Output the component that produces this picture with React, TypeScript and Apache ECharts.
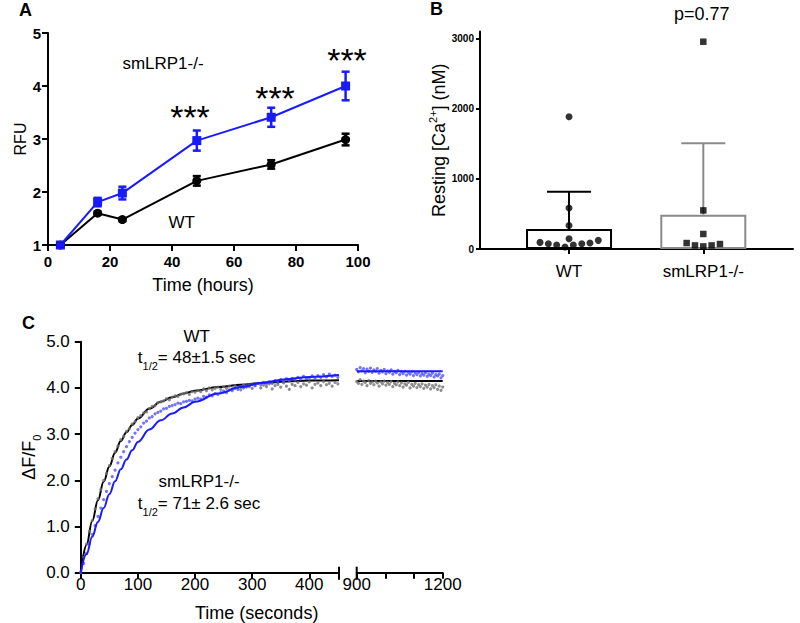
import React, { useEffect, useRef } from "react";
import * as echarts from "echarts";

const FONT = "'Liberation Sans', Arial, Helvetica, sans-serif";
const BLUE = "#1a1aff";

// ---------- Panel A ----------
const aHours = [4, 16, 24, 48, 72, 96];
const aKoMean = [1.0, 1.81, 1.98, 2.97, 3.41, 4.0];
const aKoErr = [0.02, 0.08, 0.12, 0.19, 0.18, 0.27];
const aWtMean = [1.0, 1.6, 1.48, 2.21, 2.52, 2.99];
const aWtErr = [0.02, 0.03, 0.03, 0.09, 0.08, 0.11];

// ---------- Panel B ----------
const bGroups = ["WT", "smLRP1-/-"];
const bMeans = [285, 489];
const bSD = [530, 1016];
// [horizontal jitter from the group centre, value in nM]
const bWtPoints: [number, number][] = [
  [-0.216, 94], [-0.154, 75], [-0.092, 57], [-0.03, 28], [0.032, 57], [0.095, 75],
  [0.156, 85], [0.218, 123], [0, 147], [0, 336], [0, 584], [0, 1885],
];
const bKoPoints: [number, number][] = [
  [-0.124, 85], [-0.062, 51], [0, 37], [0.062, 51], [0.124, 71], [0, 214], [0, 550], [0, 2953],
];

// ---------- Panel C ----------
const cWtFit: [number, number][] = [
  [0, 0], [10, 0.6], [20, 1.12], [30, 1.57], [40, 1.97], [50, 2.3], [60, 2.6], [70, 2.85],
  [80, 3.04], [90, 3.2], [100, 3.34], [120, 3.55], [140, 3.7], [160, 3.8], [180, 3.88],
  [200, 3.94], [240, 4.02], [280, 4.07], [320, 4.11], [360, 4.14], [400, 4.16], [452, 4.17],
];
const cKoFit: [number, number][] = [
  [0, 0], [10, 0.4], [20, 0.78], [30, 1.1], [40, 1.4], [50, 1.7], [60, 1.98], [70, 2.24],
  [80, 2.45], [90, 2.65], [100, 2.83], [120, 3.1], [140, 3.3], [160, 3.45], [180, 3.58],
  [200, 3.7], [240, 3.88], [280, 4.02], [320, 4.12], [360, 4.19], [400, 4.24], [452, 4.28],
];
const cWtFitLate: [number, number][] = [[900, 4.15], [1200, 4.15]];
const cKoFitLate: [number, number][] = [[900, 4.36], [1200, 4.36]];

const cWtData: [number, number][] = [
  [0, 0.02], [5, 0.33], [10, 0.62], [15, 0.9], [20, 1.13], [25, 1.38], [30, 1.6], [35, 1.8],
  [40, 2.0], [45, 2.15], [50, 2.32], [55, 2.47], [60, 2.62], [65, 2.74], [70, 2.88], [75, 2.95],
  [80, 3.06], [85, 3.12], [90, 3.22], [95, 3.27], [100, 3.36], [105, 3.4], [110, 3.46], [115, 3.48],
  [120, 3.56], [125, 3.6], [130, 3.62], [135, 3.68], [140, 3.7], [145, 3.72], [150, 3.77], [155, 3.74],
  [160, 3.8], [165, 3.83], [170, 3.82], [175, 3.86], [180, 3.87], [185, 3.9], [190, 3.86], [195, 3.92],
  [200, 3.91], [205, 3.95], [210, 3.92], [215, 3.98], [220, 3.94], [225, 4.0], [230, 3.96], [235, 3.99],
  [240, 4.02], [245, 3.97], [250, 4.03], [255, 3.99], [260, 4.04], [265, 3.98], [270, 4.05], [275, 4.01],
  [280, 3.96], [285, 4.06], [290, 4.02], [295, 4.07], [300, 3.99], [305, 4.05], [310, 4.1], [315, 4.0],
  [320, 4.06], [325, 4.03], [330, 4.09], [335, 3.98], [340, 4.05], [345, 4.08], [350, 4.02], [355, 4.11],
  [360, 4.04], [365, 3.97], [370, 4.08], [375, 4.05], [380, 4.12], [385, 4.03], [390, 4.09], [395, 4.06],
  [400, 4.13], [405, 4.0], [410, 4.08], [415, 4.11], [420, 4.05], [425, 4.14], [430, 4.07], [435, 4.1],
  [440, 4.04], [445, 4.12], [450, 4.09],
];
const cKoData: [number, number][] = [
  [0, 0.0], [5, 0.2], [10, 0.42], [15, 0.62], [20, 0.83], [25, 1.02], [30, 1.22], [35, 1.4],
  [40, 1.58], [45, 1.76], [50, 1.93], [55, 2.08], [60, 2.22], [65, 2.38], [70, 2.5], [75, 2.62],
  [80, 2.73], [85, 2.84], [90, 2.93], [95, 3.02], [100, 3.1], [105, 3.16], [110, 3.24], [115, 3.28],
  [120, 3.35], [125, 3.38], [130, 3.44], [135, 3.47], [140, 3.5], [145, 3.55], [150, 3.56], [155, 3.6],
  [160, 3.62], [165, 3.64], [170, 3.67], [175, 3.66], [180, 3.7], [185, 3.71], [190, 3.73], [195, 3.72],
  [200, 3.76], [205, 3.78], [210, 3.76], [215, 3.82], [220, 3.8], [225, 3.85], [230, 3.83], [235, 3.88],
  [240, 3.86], [245, 3.9], [250, 3.93], [255, 3.9], [260, 3.96], [265, 3.94], [270, 3.99], [275, 3.97],
  [280, 4.02], [285, 4.0], [290, 4.05], [295, 4.03], [300, 4.08], [305, 4.05], [310, 4.1], [315, 4.07],
  [320, 4.12], [325, 4.09], [330, 4.14], [335, 4.1], [340, 4.16], [345, 4.12], [350, 4.18], [355, 4.14],
  [360, 4.2], [365, 4.16], [370, 4.21], [375, 4.17], [380, 4.23], [385, 4.19], [390, 4.25], [395, 4.2],
  [400, 4.22], [405, 4.26], [410, 4.2], [415, 4.27], [420, 4.23], [425, 4.29], [430, 4.24], [435, 4.3],
  [440, 4.25], [445, 4.28], [450, 4.23],
];
const cWtDataLate: [number, number][] = [
  [900, 4.14], [906, 4.1], [912, 4.18], [918, 4.08], [924, 4.15], [930, 4.12], [936, 4.05], [942, 4.16],
  [948, 4.1], [954, 4.13], [960, 4.07], [966, 4.15], [972, 4.11], [978, 4.04], [984, 4.13], [990, 4.09],
  [996, 4.15], [1002, 4.06], [1008, 4.12], [1014, 4.08], [1020, 4.14], [1026, 4.03], [1032, 4.1], [1038, 4.07],
  [1044, 4.13], [1050, 4.05], [1056, 4.11], [1062, 4.02], [1068, 4.09], [1074, 4.06], [1080, 4.12], [1086, 4.0],
  [1092, 4.08], [1098, 4.04], [1104, 4.1], [1110, 4.01], [1116, 4.07], [1122, 4.03], [1128, 4.09], [1134, 3.99],
  [1140, 4.06], [1146, 4.02], [1152, 4.08], [1158, 3.98], [1164, 4.05], [1170, 4.01], [1176, 4.07], [1182, 3.97],
  [1188, 4.04], [1194, 3.95], [1200, 4.02],
];
const cKoDataLate: [number, number][] = [
  [900, 4.4], [906, 4.35], [912, 4.44], [918, 4.37], [924, 4.42], [930, 4.33], [936, 4.41], [942, 4.36],
  [948, 4.43], [954, 4.34], [960, 4.39], [966, 4.36], [972, 4.42], [978, 4.32], [984, 4.38], [990, 4.35],
  [996, 4.4], [1002, 4.31], [1008, 4.37], [1014, 4.34], [1020, 4.39], [1026, 4.3], [1032, 4.36], [1038, 4.33],
  [1044, 4.38], [1050, 4.29], [1056, 4.35], [1062, 4.31], [1068, 4.36], [1074, 4.28], [1080, 4.34], [1086, 4.3],
  [1092, 4.35], [1098, 4.27], [1104, 4.33], [1110, 4.29], [1116, 4.34], [1122, 4.26], [1128, 4.31], [1134, 4.28],
  [1140, 4.33], [1146, 4.25], [1152, 4.3], [1158, 4.27], [1164, 4.32], [1170, 4.24], [1176, 4.29], [1182, 4.26],
  [1188, 4.3], [1194, 4.22], [1200, 4.27],
];

const axisLine = { show: true, onZero: false, lineStyle: { color: "#000", width: 2 } };
const axisTick = (len: number) => ({ show: true, inside: false, length: len, lineStyle: { color: "#000", width: 2 } });

function errorBars(xi: number, data: number[][], colors: string[], halfCap: number, lw: number, lowerCap: boolean) {
  return {
    type: "custom",
    xAxisIndex: xi,
    yAxisIndex: xi,
    data,
    encode: { x: 0, y: [1, 2] },
    z: 3,
    renderItem: (params: any, api: any) => {
      const x = api.value(0);
      const lo = api.coord([x, api.value(1)]);
      const hi = api.coord([x, api.value(2)]);
      const style = { stroke: colors[params.dataIndex % colors.length], lineWidth: lw };
      const children: any[] = [
        { type: "line", shape: { x1: lo[0], y1: lo[1], x2: hi[0], y2: hi[1] }, style },
        { type: "line", shape: { x1: hi[0] - halfCap, y1: hi[1], x2: hi[0] + halfCap, y2: hi[1] }, style },
      ];
      if (lowerCap) {
        children.push({ type: "line", shape: { x1: lo[0] - halfCap, y1: lo[1], x2: lo[0] + halfCap, y2: lo[1] }, style });
      }
      return { type: "group", children };
    },
  };
}

function txt(x: number, y: number, text: string, size: number, extra: any = {}) {
  return {
    type: "text",
    x,
    y,
    z: 100,
    style: {
      text,
      fontSize: size,
      fontFamily: FONT,
      fontWeight: "normal",
      fill: "#000",
      align: "center",
      verticalAlign: "middle",
      ...extra,
    },
  };
}

function richHalf(x: number, y: number, rest: string) {
  return {
    type: "text",
    x,
    y,
    z: 100,
    style: {
      text: `{n|t}{s|1/2}{n|${rest}}`,
      fontFamily: FONT,
      fill: "#000",
      align: "center",
      verticalAlign: "middle",
      rich: {
        n: { fontSize: 17, lineHeight: 28, fontFamily: FONT, fontWeight: "normal", fill: "#000" },
        s: { fontSize: 11, lineHeight: 12, verticalAlign: "bottom", fontFamily: FONT, fontWeight: "normal", fill: "#000" },
      },
    },
  };
}

const nameStyle = (size: number) => ({ fontSize: size, color: "#000", fontFamily: FONT, fontWeight: "normal" });

export default function App() {
  const ref = useRef<HTMLDivElement>(null);
  useEffect(() => {
    const chart = echarts.init(ref.current!, undefined, { renderer: "svg", width: 800, height: 623 });

    const graphics: any[] = [
      txt(25.5, 10, "A", 18, { fontWeight: "bold" }),
      txt(436.5, 9, "B", 18, { fontWeight: "bold" }),
      txt(28.5, 322.5, "C", 18, { fontWeight: "bold" }),
      txt(163, 63, "smLRP1-/-", 17),
      txt(181.7, 222, "WT", 17),
      txt(190, 117, "***", 34),
      txt(275, 98, "***", 34),
      txt(347, 60, "***", 34),
      txt(701.7, 14, "p=0.77", 18),
      txt(196.7, 336.7, "WT", 17),
      richHalf(196.7, 357.3, "= 48±1.5 sec"),
      txt(199, 481.7, "smLRP1-/-", 17),
      richHalf(199, 503.3, "= 71± 2.6 sec"),
      txt(256.7, 613, "Time (seconds)", 18),
    ];

    const option: any = {
      animation: false,
      backgroundColor: "#fff",
      textStyle: { fontFamily: FONT, color: "#000", fontWeight: "normal" },
      grid: [
        { left: 48, top: 33, width: 310, height: 212 },
        { left: 480, top: 31.4, width: 313, height: 217.6 },
        { left: 80.8, top: 341.8, width: 258.2, height: 230.9 },
        { left: 356.7, top: 341.8, width: 86, height: 230.9 },
      ],
      xAxis: [
        {
          type: "value", gridIndex: 0, min: 0, max: 100, interval: 20,
          axisLine, axisTick: axisTick(6), splitLine: { show: false },
          axisLabel: { fontSize: 15, fontWeight: "bold", color: "#000", margin: 9, fontFamily: FONT },
          name: "Time (hours)", nameLocation: "middle", nameGap: 31,
          nameTextStyle: nameStyle(18),
        },
        {
          type: "value", gridIndex: 1, min: -0.663, max: 1.668,
          axisLine, splitLine: { show: false },
          axisTick: { ...axisTick(5), customValues: [0, 1] },
          axisLabel: {
            customValues: [0, 1], fontSize: 17, color: "#000", margin: 14, fontFamily: FONT, fontWeight: "normal",
            formatter: (v: number) => bGroups[Math.round(v)] ?? "",
          },
        },
        {
          type: "value", gridIndex: 2, min: 0, max: 452, interval: 100,
          axisLine, axisTick: axisTick(6), splitLine: { show: false },
          axisLabel: { fontSize: 17, color: "#000", margin: 3, fontFamily: FONT, fontWeight: "normal", showMaxLabel: false },
        },
        {
          type: "value", gridIndex: 3, min: 900, max: 1200, interval: 100,
          axisLine, axisTick: axisTick(6), splitLine: { show: false },
          axisLabel: {
            fontSize: 17, color: "#000", margin: 3, fontFamily: FONT, fontWeight: "normal",
            formatter: (v: number) => (v === 900 || v === 1200 ? String(v) : ""),
          },
        },
      ],
      yAxis: [
        {
          type: "value", gridIndex: 0, min: 1, max: 5, interval: 1,
          axisLine, axisTick: axisTick(6), splitLine: { show: false },
          axisLabel: { fontSize: 15, fontWeight: "bold", color: "#000", margin: 7, fontFamily: FONT },
          name: "RFU", nameLocation: "middle", nameGap: 18,
          nameTextStyle: nameStyle(16),
        },
        {
          type: "value", gridIndex: 1, min: 0, max: 3100, interval: 1000,
          axisLine, axisTick: axisTick(4), splitLine: { show: false },
          axisLabel: {
            fontSize: 10, fontWeight: "bold", color: "#000", margin: 6, fontFamily: FONT,
            formatter: (v: number) => String(v),
          },
          name: "{n|Resting [Ca}{p|2+}{n|] (nM)}", nameLocation: "middle", nameGap: 29,
          nameTextStyle: {
            ...nameStyle(18),
            rich: {
              n: { fontSize: 18, lineHeight: 22, fontFamily: FONT, fontWeight: "normal", color: "#000" },
              p: { fontSize: 11, lineHeight: 10, verticalAlign: "top", fontFamily: FONT, fontWeight: "normal", color: "#000" },
            },
          },
        },
        {
          type: "value", gridIndex: 2, min: 0, max: 5, interval: 1,
          axisLine, axisTick: axisTick(6), splitLine: { show: false },
          axisLabel: {
            fontSize: 17, color: "#000", margin: 11, fontFamily: FONT, fontWeight: "normal",
            formatter: (v: number) => v.toFixed(1),
          },
          name: "{n|ΔF/F}{s|0}", nameLocation: "middle", nameGap: 38,
          nameTextStyle: {
            ...nameStyle(18),
            rich: {
              n: { fontSize: 18, lineHeight: 26, fontFamily: FONT, fontWeight: "normal", color: "#000" },
              s: { fontSize: 11, lineHeight: 12, verticalAlign: "bottom", fontFamily: FONT, fontWeight: "normal", color: "#000" },
            },
          },
        },
        {
          type: "value", gridIndex: 3, min: 0, max: 5, interval: 1, show: false,
        },
      ],
      series: [
        // Panel A
        {
          type: "line", xAxisIndex: 0, yAxisIndex: 0, z: 2,
          data: aHours.map((h, i) => [h, aWtMean[i]]),
          symbol: "circle", symbolSize: 9,
          itemStyle: { color: "#000" }, lineStyle: { color: "#000", width: 2 },
        },
        {
          type: "line", xAxisIndex: 0, yAxisIndex: 0, z: 2,
          data: aHours.map((h, i) => [h, aKoMean[i]]),
          symbol: "rect", symbolSize: 9,
          itemStyle: { color: BLUE }, lineStyle: { color: BLUE, width: 2 },
        },
        errorBars(0, aHours.map((h, i) => [h, aWtMean[i] - aWtErr[i], aWtMean[i] + aWtErr[i]]), ["#000"], 4, 2.5, true),
        errorBars(0, aHours.map((h, i) => [h, aKoMean[i] - aKoErr[i], aKoMean[i] + aKoErr[i]]), [BLUE], 4, 2.5, true),
        // Panel B
        {
          type: "bar", xAxisIndex: 1, yAxisIndex: 1, barWidth: 86, z: 1,
          data: [
            { value: [0, bMeans[0]], itemStyle: { color: "#fff", borderColor: "#000", borderWidth: 2 } },
            { value: [1, bMeans[1]], itemStyle: { color: "#fff", borderColor: "#8a8a8a", borderWidth: 2 } },
          ],
        },
        errorBars(1, bMeans.map((m, i) => [i, m, m + bSD[i]]), ["#000", "#8a8a8a"], 22, 2, false),
        {
          type: "scatter", xAxisIndex: 1, yAxisIndex: 1, z: 4,
          data: bWtPoints.map(([dx, v]) => [0 + dx, v]), symbol: "circle", symbolSize: 7, itemStyle: { color: "#000" },
        },
        {
          type: "scatter", xAxisIndex: 1, yAxisIndex: 1, z: 4,
          data: bKoPoints.map(([dx, v]) => [1 + dx, v]), symbol: "rect", symbolSize: 6.5, itemStyle: { color: "#000" },
        },
        // Panel C (left)
        {
          type: "line", xAxisIndex: 2, yAxisIndex: 2, z: 2, data: cWtFit, smooth: 0.4, smoothMonotone: "x",
          showSymbol: false, lineStyle: { color: "#000", width: 2 },
        },
        {
          type: "scatter", xAxisIndex: 2, yAxisIndex: 2, z: 3, data: cWtData,
          symbolSize: 3.2, itemStyle: { color: "#727272" },
        },
        {
          type: "scatter", xAxisIndex: 2, yAxisIndex: 2, z: 3, data: cKoData,
          symbolSize: 3.2, itemStyle: { color: "#5050ff" },
        },
        {
          type: "line", xAxisIndex: 2, yAxisIndex: 2, z: 4, data: cKoFit, smooth: 0.4, smoothMonotone: "x",
          showSymbol: false, lineStyle: { color: BLUE, width: 2 },
        },
        // Panel C (right)
        {
          type: "line", xAxisIndex: 3, yAxisIndex: 3, z: 2, data: cWtFitLate,
          showSymbol: false, lineStyle: { color: "#000", width: 2 },
        },
        {
          type: "scatter", xAxisIndex: 3, yAxisIndex: 3, z: 3, data: cWtDataLate,
          symbolSize: 3.2, itemStyle: { color: "#727272" },
        },
        {
          type: "scatter", xAxisIndex: 3, yAxisIndex: 3, z: 3, data: cKoDataLate,
          symbolSize: 3.2, itemStyle: { color: "#5050ff" },
        },
        {
          type: "line", xAxisIndex: 3, yAxisIndex: 3, z: 4, data: cKoFitLate,
          showSymbol: false, lineStyle: { color: BLUE, width: 2 },
        },
      ],
      graphic: graphics,
    };

    chart.setOption(option);

    // axis-break marks at the ends of the two x-axis segments
    const p1 = chart.convertToPixel({ xAxisIndex: 2, yAxisIndex: 2 } as any, [452, 0]) as number[];
    const p2 = chart.convertToPixel({ xAxisIndex: 3, yAxisIndex: 3 } as any, [900, 0]) as number[];
    const breakMark = (p: number[]) => ({
      type: "line",
      z: 100,
      shape: { x1: p[0], y1: p[1] - 6, x2: p[0], y2: p[1] + 7 },
      style: { stroke: "#000", lineWidth: 2 },
    });
    chart.setOption({ graphic: [...graphics, breakMark(p1), breakMark(p2)] });

    return () => chart.dispose();
  }, []);

  return (
    <div
      ref={ref}
      style={{ position: "absolute", left: 0, top: 0, width: 800, height: 623, background: "#fff" }}
    />
  );
}
